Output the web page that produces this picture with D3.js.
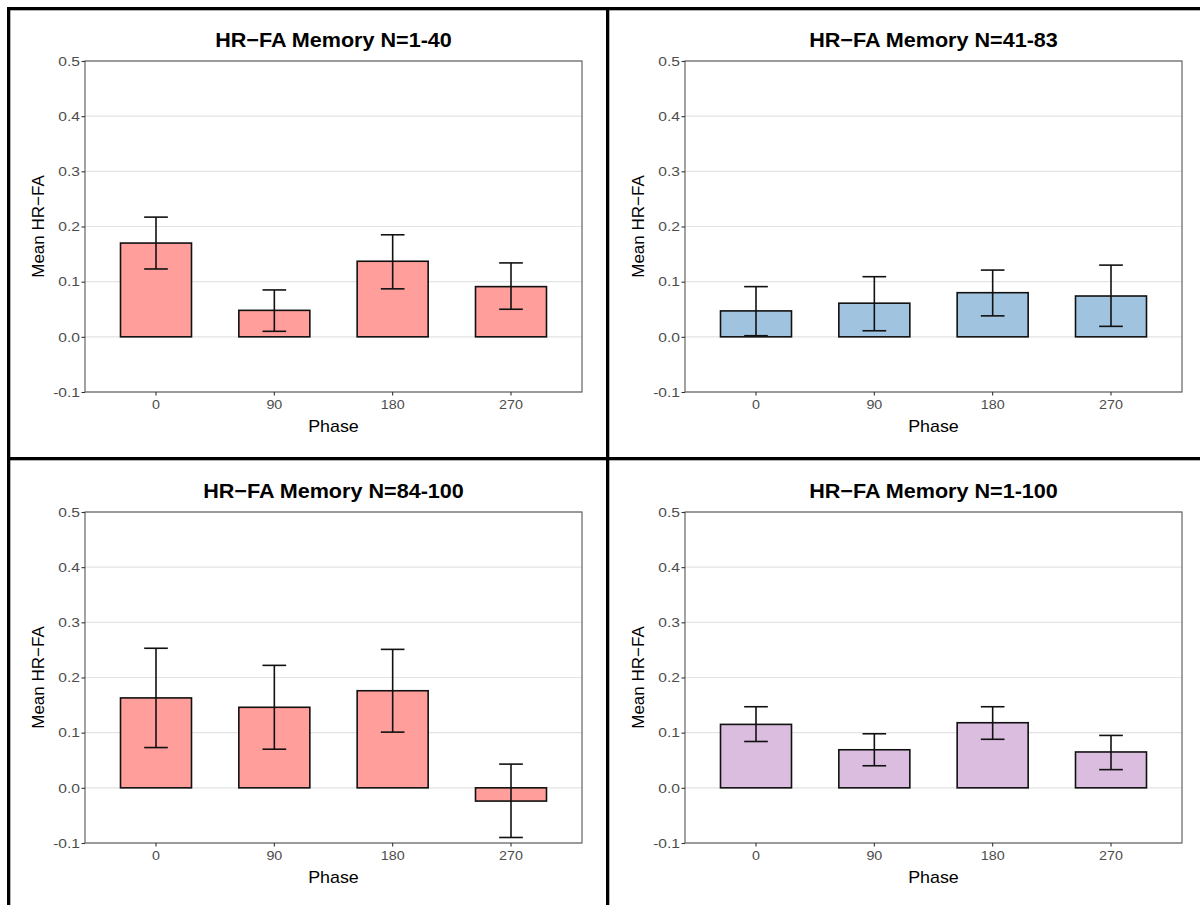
<!DOCTYPE html>
<html>
<head>
<meta charset="utf-8">
<script src="https://cdn.jsdelivr.net/npm/d3@7"></script>
<style>
  html, body { margin: 0; padding: 0; background: #fff; }
  svg { display: block; font-family: "Liberation Sans", Arial, Helvetica, sans-serif; }
</style>
</head>
<body>
<svg id="chart" width="1200" height="905"></svg>
<script>
// ---- data ----
const phases = ["0", "90", "180", "270"];
const yTicks = [-0.1, 0.0, 0.1, 0.2, 0.3, 0.4, 0.5];
const titles = ["HR\u2212FA Memory N=1-40", "HR\u2212FA Memory N=41-83", "HR\u2212FA Memory N=84-100", "HR\u2212FA Memory N=1-100"];
const meansA = [0.170, 0.048, 0.137, 0.091];
const lowA   = [0.123, 0.010, 0.087, 0.050];
const highA  = [0.217, 0.085, 0.185, 0.134];
const meansB = [0.047, 0.061, 0.080, 0.074];
const lowB   = [0.002, 0.011, 0.038, 0.019];
const highB  = [0.091, 0.109, 0.121, 0.130];
const meansC = [0.163, 0.146, 0.176, -0.024];
const lowC   = [0.073, 0.070, 0.101, -0.090];
const highC  = [0.253, 0.222, 0.251, 0.043];
const meansD = [0.115, 0.069, 0.118, 0.065];
const lowD   = [0.084, 0.040, 0.088, 0.033];
const highD  = [0.147, 0.098, 0.147, 0.095];
const fills = ["#FF9E9B", "#A0C3E0", "#FF9E9B", "#DABDDF"];

const panels = [
  {title: titles[0], m: meansA, lo: lowA, hi: highA, fill: fills[0], ox: 0,   oy: 0},
  {title: titles[1], m: meansB, lo: lowB, hi: highB, fill: fills[1], ox: 600, oy: 0},
  {title: titles[2], m: meansC, lo: lowC, hi: highC, fill: fills[2], ox: 0,   oy: 451},
  {title: titles[3], m: meansD, lo: lowD, hi: highD, fill: fills[3], ox: 600, oy: 451}
];

const svg = d3.select("#chart");
const pw = 497, ph = 331; // plot area
const pLeft = 85, pTop = 61;

panels.forEach(p => {
  const g = svg.append("g").attr("transform", `translate(${p.ox},${p.oy})`);
  const x = d3.scaleBand().domain(phases).range([pLeft, pLeft + pw]).paddingInner(0.4).paddingOuter(0.3);
  const y = d3.scaleLinear().domain([-0.1, 0.5]).range([pTop + ph, pTop]);
  const step = x.step();

  // gridlines
  g.append("g").selectAll("line").data(yTicks).join("line")
    .attr("x1", pLeft).attr("x2", pLeft + pw)
    .attr("y1", d => y(d)).attr("y2", d => y(d))
    .attr("stroke", "#e3e3e3").attr("stroke-width", 1.1);

  // bars
  g.append("g").selectAll("rect").data(phases).join("rect")
    .attr("x", d => x(d))
    .attr("width", x.bandwidth())
    .attr("y", (d, i) => Math.min(y(p.m[i]), y(0)))
    .attr("height", (d, i) => Math.abs(y(p.m[i]) - y(0)))
    .attr("fill", p.fill)
    .attr("stroke", "#111").attr("stroke-width", 1.6);

  // error bars
  const eb = g.append("g").attr("stroke", "#111").attr("stroke-width", 1.6).attr("fill", "none");
  const ew = step * 0.2;
  phases.forEach((d, i) => {
    const cx = x(d) + x.bandwidth() / 2;
    eb.append("line").attr("x1", cx).attr("x2", cx).attr("y1", y(p.lo[i])).attr("y2", y(p.hi[i]));
    eb.append("line").attr("x1", cx - ew / 2).attr("x2", cx + ew / 2).attr("y1", y(p.lo[i])).attr("y2", y(p.lo[i]));
    eb.append("line").attr("x1", cx - ew / 2).attr("x2", cx + ew / 2).attr("y1", y(p.hi[i])).attr("y2", y(p.hi[i]));
  });

  // panel border
  g.append("rect").attr("x", pLeft).attr("y", pTop).attr("width", pw).attr("height", ph)
    .attr("fill", "none").attr("stroke", "#555").attr("stroke-width", 1.1);

  // axes
  const yAxis = d3.axisLeft(y).tickValues(yTicks).tickSize(3.5).tickPadding(2);
  const ya = g.append("g").attr("transform", `translate(${pLeft},0)`).call(yAxis);
  ya.select(".domain").remove();
  ya.selectAll(".tick line").attr("stroke", "#333").attr("stroke-width", 1.1);
  ya.selectAll(".tick text").attr("fill", "#4d4d4d").style("font-size", "13px")
    .attr("x", 0).attr("transform", "translate(-5,0) scale(1.2,1)")
    .text(d => d3.format(".1f")(d).replace("\u2212", "-"));

  const xAxis = d3.axisBottom(x).tickSize(3.5).tickPadding(4);
  const xa = g.append("g").attr("transform", `translate(0,${pTop + ph})`).call(xAxis);
  xa.select(".domain").remove();
  xa.selectAll(".tick line").attr("stroke", "#333").attr("stroke-width", 1.1);
  xa.selectAll(".tick text").attr("fill", "#4d4d4d").style("font-size", "13px")
    .attr("transform", "scale(1.1,1)");

  // titles and labels
  g.append("text").attr("transform", `translate(${pLeft + pw / 2},47) scale(1.08,1)`).attr("text-anchor", "middle")
    .style("font-size", "20px").style("font-weight", "bold").attr("fill", "#000").text(p.title);
  g.append("text").attr("transform", `translate(${pLeft + pw / 2},432) scale(1.05,1)`).attr("text-anchor", "middle")
    .style("font-size", "17px").attr("fill", "#000").text("Phase");
  g.append("text").attr("transform", `translate(44,${pTop + ph / 2}) rotate(-90)`).attr("text-anchor", "middle")
    .style("font-size", "17px").attr("fill", "#000").text("Mean HR\u2212FA");
});

// black frame / dividers
const frame = svg.append("g").attr("fill", "#000");
frame.append("rect").attr("x", 7).attr("y", 7).attr("width", 1193).attr("height", 3.3);
frame.append("rect").attr("x", 7).attr("y", 7).attr("width", 3.3).attr("height", 898);
frame.append("rect").attr("x", 606).attr("y", 7).attr("width", 3.3).attr("height", 898);
frame.append("rect").attr("x", 7).attr("y", 457).attr("width", 1193).attr("height", 3.3);
</script>
</body>
</html>
